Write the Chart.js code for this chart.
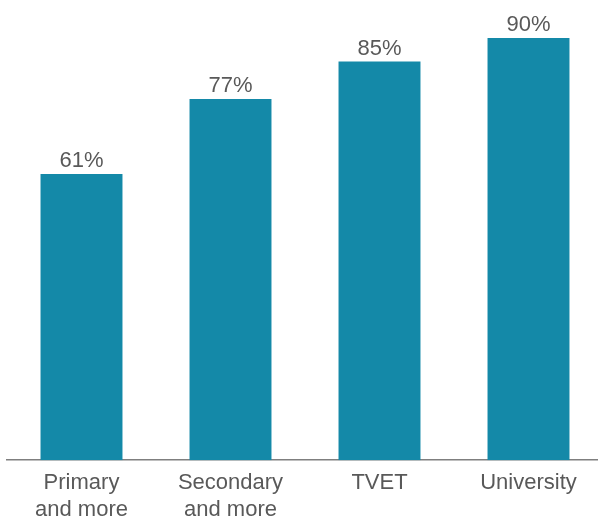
<!DOCTYPE html>
<html>
<head>
<meta charset="utf-8">
<script src="https://cdn.jsdelivr.net/npm/chart.js@4"></script>
<style>
  html, body { margin: 0; padding: 0; background: #fff; width: 598px; height: 516px; overflow: hidden; }
  #marco { position: relative; width: 598px; height: 516px; overflow: hidden; }
  #wrap { position: absolute; left: 0; top: 0; width: 610px; height: 525px; }
</style>
</head>
<body>
<div id="marco"><div id="wrap"><canvas id="eduChart"></canvas></div></div>
<script>
// datos
const niveles = [['Primary', 'and more'], ['Secondary', 'and more'], 'TVET', 'University'];
const porcentajes = [61, 77, 85, 90];

const grisTexto = '#595959';

// etiquetas encima de cada barra
const etiquetasBarras = {
  id: 'etiquetasBarras',
  afterDatasetsDraw(chart) {
    const c = chart.ctx;
    const meta = chart.getDatasetMeta(0);
    c.save();
    c.font = '22px "Liberation Sans", Arial, sans-serif';
    c.fillStyle = grisTexto;
    c.textAlign = 'center';
    c.textBaseline = 'alphabetic';
    meta.data.forEach((barra, i) => {
      c.fillText(porcentajes[i] + '%', barra.x, barra.y - 7);
    });
    c.restore();
  }
};

new Chart(document.getElementById('eduChart'), {
  type: 'bar',
  data: {
    labels: niveles,
    datasets: [{
      data: porcentajes,
      backgroundColor: '#1489a8',
      barPercentage: 1,
      categoryPercentage: 0.55
    }]
  },
  options: {
    responsive: true,
    maintainAspectRatio: false,
    animation: false,
    layout: { padding: { top: 14.6, left: 7, right: 7, bottom: 0 } },
    scales: {
      x: {
        grid: { display: false },
        border: { display: true, color: '#7f7f7f', width: 1.5 },
        ticks: {
          color: grisTexto,
          font: { family: '"Liberation Sans", Arial, sans-serif', size: 22, lineHeight: 1.2 },
          padding: 2,
          maxRotation: 0,
          autoSkip: false
        }
      },
      y: {
        display: false,
        min: 0,
        max: 95
      }
    },
    plugins: {
      legend: { display: false },
      tooltip: { enabled: false }
    }
  },
  plugins: [etiquetasBarras]
});
</script>
</body>
</html>
